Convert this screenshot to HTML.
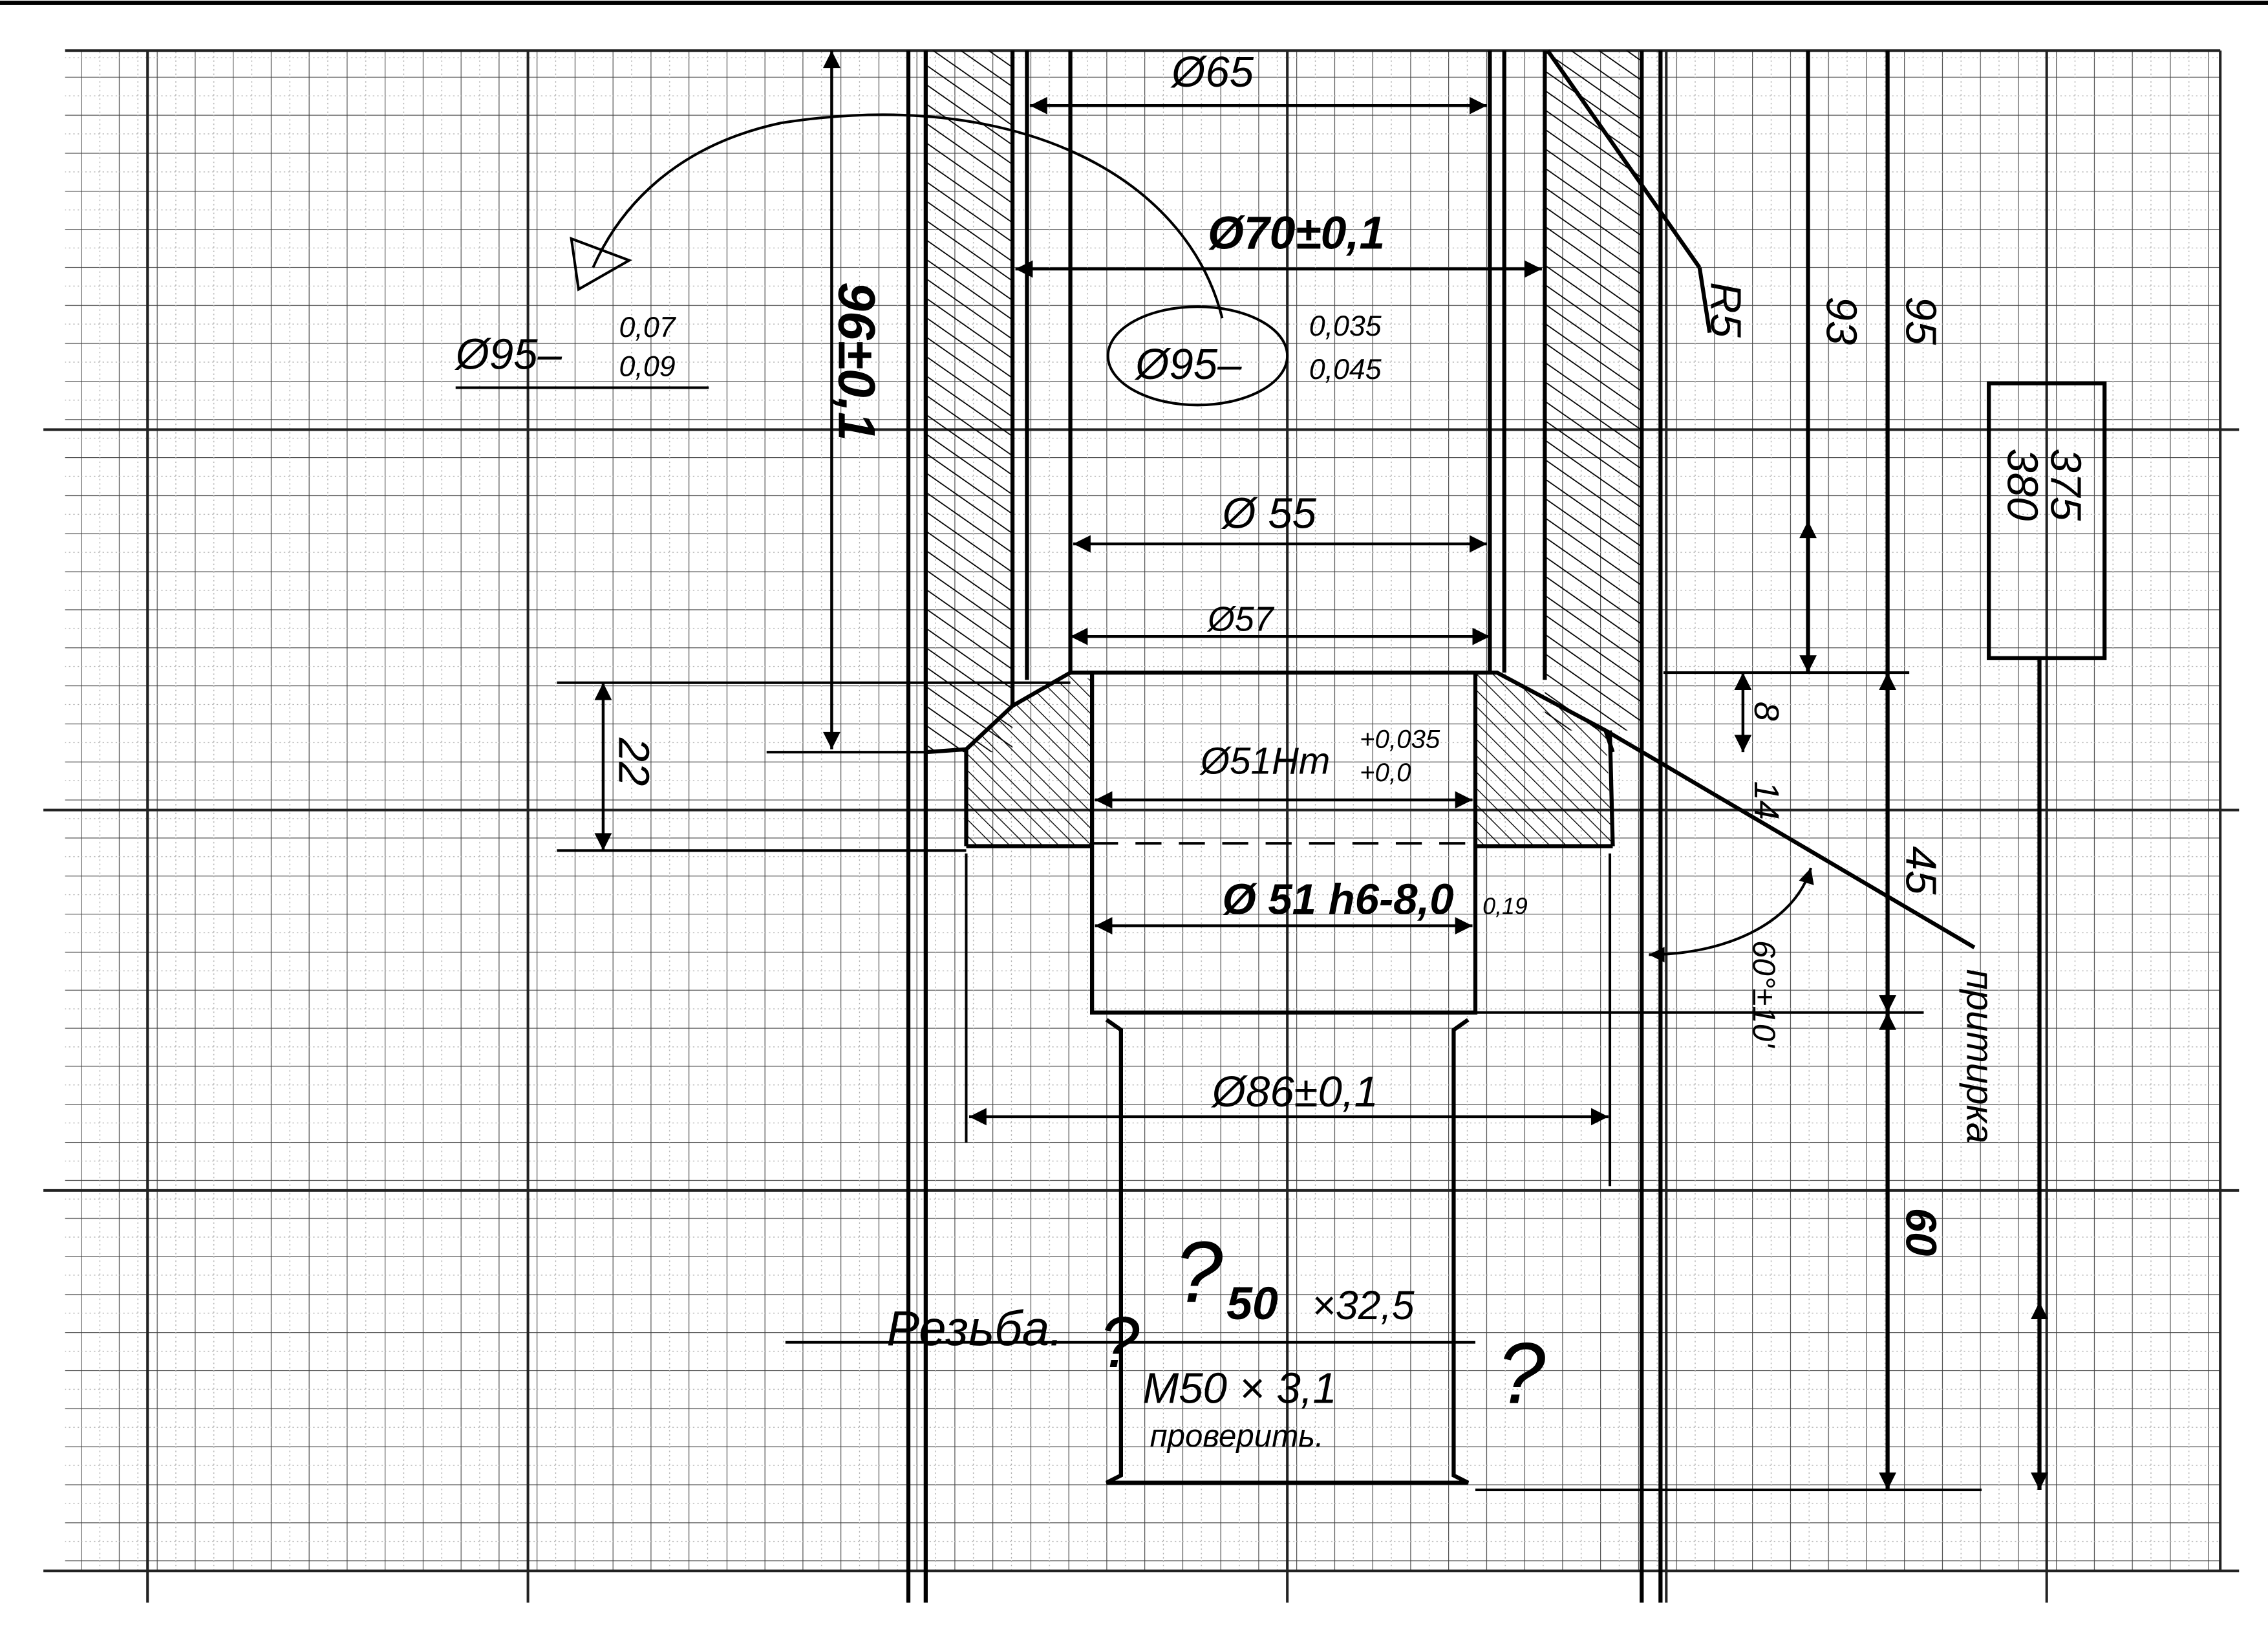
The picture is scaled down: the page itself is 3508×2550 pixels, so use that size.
<!DOCTYPE html>
<html><head><meta charset="utf-8"><style>
html,body{margin:0;padding:0;background:#fff;}
svg{display:block;}
text{font-family:"Liberation Sans","DejaVu Sans",sans-serif;font-style:italic;fill:#000;}
</style></head><body>
<svg width="3508" height="2550" viewBox="0 0 1568 1140" preserveAspectRatio="none" xmlns="http://www.w3.org/2000/svg">
<defs>
<pattern id="minor" x="3.4" y="0.5" width="26.26" height="26.3" patternUnits="userSpaceOnUse">
<path d="M0 0V26.3M0 0H26.26" stroke="#444" stroke-width="1" fill="none"/>
<path d="M13.13 0V26.3M0 13.15H26.26" stroke="#aaa" stroke-width="0.6" stroke-dasharray="1 2" fill="none"/>
</pattern>
<pattern id="hatch" width="11" height="11" patternUnits="userSpaceOnUse" patternTransform="rotate(-55)">
<path d="M0 0V11" stroke="#000" stroke-width="1.6"/>
</pattern>
<pattern id="hatch2" width="8" height="8" patternUnits="userSpaceOnUse" patternTransform="rotate(-45)">
<path d="M0 0V8" stroke="#000" stroke-width="1.2"/>
</pattern>
<marker id="ar" viewBox="0 0 10 10" refX="10" refY="5" markerWidth="8" markerHeight="6" orient="auto-start-reverse"><path d="M0 0L10 5L0 10z" fill="#000"/></marker>
</defs>
<rect width="1568" height="1140" fill="#fff"/>
<line x1="0" y1="2" x2="1568" y2="2" stroke="#000" stroke-width="3"/>
<rect x="45" y="35" width="1490" height="1051" fill="url(#minor)"/>
<g stroke="#222" stroke-width="1.8">
<line x1="102" y1="35" x2="102" y2="1108"/><line x1="365" y1="35" x2="365" y2="1108"/>
<line x1="628" y1="35" x2="628" y2="1108"/><line x1="890" y1="35" x2="890" y2="1108"/>
<line x1="1152" y1="35" x2="1152" y2="1108"/><line x1="1415" y1="35" x2="1415" y2="1108"/>
<line x1="30" y1="297" x2="1548" y2="297"/><line x1="30" y1="560" x2="1548" y2="560"/>
<line x1="30" y1="823" x2="1548" y2="823"/><line x1="30" y1="1086" x2="1548" y2="1086"/>
<line x1="45" y1="35" x2="1535" y2="35"/><line x1="1535" y1="35" x2="1535" y2="1086"/>
</g>
<rect x="640" y="35" width="60" height="485" fill="url(#hatch)"/>
<rect x="1068" y="35" width="67" height="470" fill="url(#hatch)"/>
<polygon points="668,518 700,488 740,465 755,470 755,585 668,585" fill="url(#hatch2)"/>
<polygon points="1020,465 1035,465 1110,505 1115,585 1020,585" fill="url(#hatch2)"/>
<g stroke="#000" stroke-width="2.8" fill="none">
<line x1="628" y1="35" x2="628" y2="1108"/><line x1="640" y1="35" x2="640" y2="1108"/>
<line x1="700" y1="35" x2="700" y2="488"/><line x1="710" y1="35" x2="710" y2="470"/>
<line x1="740" y1="35" x2="740" y2="465"/><line x1="1030" y1="35" x2="1030" y2="465"/>
<line x1="1040" y1="35" x2="1040" y2="465"/><line x1="1068" y1="35" x2="1068" y2="470"/>
<line x1="1135" y1="35" x2="1135" y2="1108"/><line x1="1148" y1="35" x2="1148" y2="1108"/>
<polyline points="640,520 668,518 700,488 740,465 1035,465 1110,505 1115,520"/>
<line x1="668" y1="518" x2="668" y2="585"/><line x1="1113" y1="505" x2="1115" y2="585"/>
<line x1="668" y1="585" x2="755" y2="585"/><line x1="1020" y1="585" x2="1115" y2="585"/>
<polyline points="755,465 755,700 1020,700 1020,465"/>
<polyline points="765,705 775,712 775,1020 765,1025 1015,1025 1005,1020 1005,712 1015,705"/>
<line x1="1110" y1="505" x2="1365" y2="655"/>
<line x1="1070" y1="35" x2="1175" y2="185"/><line x1="1175" y1="185" x2="1182" y2="230"/>
<line x1="1250" y1="35" x2="1250" y2="465"/><line x1="1305" y1="35" x2="1305" y2="1030"/>
<line x1="1410" y1="455" x2="1410" y2="1030"/>
<rect x="1375" y="265" width="80" height="190"/>
</g>
<line x1="755" y1="583" x2="1020" y2="583" stroke="#000" stroke-width="1.8" stroke-dasharray="18 12"/>
<g stroke="#000" stroke-width="2" fill="none" marker-start="url(#ar)" marker-end="url(#ar)">
<line x1="712" y1="73" x2="1028" y2="73"/>
<line x1="702" y1="186" x2="1066" y2="186"/>
<line x1="742" y1="376" x2="1028" y2="376"/>
<line x1="740" y1="440" x2="1030" y2="440"/>
<line x1="757" y1="553" x2="1018" y2="553"/>
<line x1="757" y1="640" x2="1018" y2="640"/>
<line x1="670" y1="772" x2="1112" y2="772"/>
<line x1="417" y1="472" x2="417" y2="588"/>
<line x1="575" y1="35" x2="575" y2="518"/>
<line x1="1205" y1="465" x2="1205" y2="520"/>
<line x1="1305" y1="465" x2="1305" y2="700"/>
<line x1="1305" y1="700" x2="1305" y2="1030"/>
<line x1="1250" y1="360" x2="1250" y2="465"/>
<line x1="1410" y1="900" x2="1410" y2="1030"/>
</g>
<g stroke="#000" stroke-width="1.8" fill="none">
<line x1="385" y1="472" x2="740" y2="472"/><line x1="385" y1="588" x2="668" y2="588"/>
<line x1="530" y1="520" x2="640" y2="520"/>
<line x1="1150" y1="465" x2="1320" y2="465"/><line x1="1020" y1="700" x2="1330" y2="700"/>
<line x1="1020" y1="1030" x2="1370" y2="1030"/>
<line x1="543" y1="928" x2="1020" y2="928"/>
<line x1="315" y1="268" x2="490" y2="268"/>
<line x1="668" y1="590" x2="668" y2="790"/><line x1="1113" y1="590" x2="1113" y2="820"/>
<line x1="1415" y1="455" x2="1455" y2="455"/>
<path d="M845 220 C 820 120, 700 60, 540 85 C 470 100, 430 140, 410 185"/>
<path d="M395 165 L435 180 L400 200 Z"/>
<ellipse cx="828" cy="246" rx="62" ry="34"/>
<path d="M1140 660 C 1190 660, 1240 640, 1252 600" marker-start="url(#ar)" marker-end="url(#ar)"/>
</g>
<g font-size="30">
<text x="810" y="60">Ø65</text>
<text x="835" y="172" font-weight="bold" font-size="32">Ø70±0,1</text>
<text x="785" y="262">Ø95–</text>
<text x="905" y="232" font-size="20">0,035</text>
<text x="905" y="262" font-size="20">0,045</text>
<text x="315" y="255">Ø95–</text>
<text x="428" y="233" font-size="20">0,07</text>
<text x="428" y="260" font-size="20">0,09</text>
<text x="845" y="365">Ø 55</text>
<text x="835" y="436" font-size="24">Ø57</text>
<text x="830" y="535" font-size="26">Ø51Hт</text>
<text x="940" y="517" font-size="18">+0,035</text>
<text x="940" y="540" font-size="18">+0,0</text>
<text x="845" y="632" font-weight="bold" font-size="30">Ø 51 h6-8,0</text>
<text x="1025" y="632" font-size="16">0,19</text>
<text x="838" y="765">Ø86±0,1</text>
<text x="613" y="930" font-size="34">Резьба.</text>
<text x="848" y="912" font-weight="bold" font-size="32">50</text>
<text x="907" y="912" font-size="28">×32,5</text>
<text x="790" y="970" font-size="30">M50 × 3,1</text>
<text x="795" y="1000" font-size="22">проверить.</text>
<text x="812" y="900" font-size="60">?</text>
<text x="760" y="945" font-size="50">?</text>
<text x="1035" y="970" font-size="60">?</text>
<text x="0" y="0" font-size="36" font-weight="bold" transform="translate(580,195) rotate(90)">96±0,1</text>
<text x="0" y="0" transform="translate(428,510) rotate(90)">22</text>
<text x="0" y="0" transform="translate(1183,195) rotate(90)">R5</text>
<text x="0" y="0" transform="translate(1263,205) rotate(90)">93</text>
<text x="0" y="0" transform="translate(1318,205) rotate(90)">95</text>
<text x="0" y="0" transform="translate(1388,310) rotate(90)">380</text>
<text x="0" y="0" transform="translate(1418,310) rotate(90)">375</text>
<text x="0" y="0" font-size="24" transform="translate(1213,485) rotate(90)">8</text>
<text x="0" y="0" font-size="24" transform="translate(1213,540) rotate(90)">14</text>
<text x="0" y="0" transform="translate(1318,585) rotate(90)">45</text>
<text x="0" y="0" font-weight="bold" transform="translate(1318,835) rotate(90)">60</text>
<text x="0" y="0" font-size="22" transform="translate(1212,650) rotate(90)">60°±10'</text>
<text x="0" y="0" font-size="26" transform="translate(1360,670) rotate(90)">притирка</text>
</g>
</svg>
</body></html>
